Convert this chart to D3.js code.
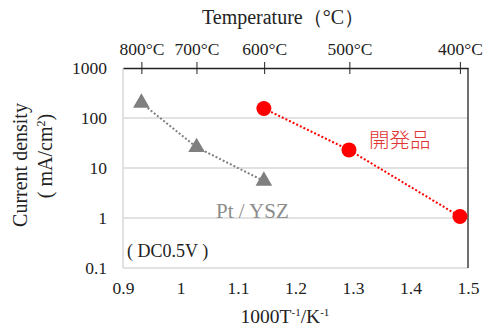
<!DOCTYPE html>
<html><head><meta charset="utf-8">
<script src="https://cdn.jsdelivr.net/npm/d3@7"></script>
<style>body{margin:0;background:#fff}svg{display:block}</style>
</head><body>
<svg id="c" width="500" height="330"></svg>
<script>
const ptX = [0.932, 1.028, 1.145];
const ptY = [200, 26, 5.5];
const devX = [1.145, 1.293, 1.486];
const devY = [155, 23, 1.07];
const xTicks = [0.9, 1.0, 1.1, 1.2, 1.3, 1.4, 1.5];
const yTicks = [0.1, 1, 10, 100, 1000];
const tempTicks = [800, 700, 600, 500, 400];

const SERIF = '"Liberation Serif","Times New Roman",Times,serif';
const svg = d3.select("#c");
const L = 123, R = 468, T = 68, B = 268;
const x = d3.scaleLinear().domain([0.9, 1.5]).range([L, R]);
const y = d3.scaleLog().domain([0.1, 1000]).range([B, T]);

svg.append("g").selectAll("line").data(yTicks.slice(1, 4)).join("line")
  .attr("x1", L).attr("x2", R).attr("y1", d => y(d)).attr("y2", d => y(d))
  .attr("stroke", "#d9d9d9").attr("stroke-width", 1.5);
svg.append("line").attr("x1", L).attr("x2", L).attr("y1", T).attr("y2", B).attr("stroke", "#d9d9d9").attr("stroke-width", 1.5);
svg.append("line").attr("x1", L).attr("x2", R).attr("y1", B).attr("y2", B).attr("stroke", "#d9d9d9").attr("stroke-width", 1.5);
svg.append("line").attr("x1", R).attr("x2", R).attr("y1", T).attr("y2", B).attr("stroke", "#222").attr("stroke-width", 1.3);

const xa = svg.append("g").attr("transform", `translate(0,${B})`)
  .call(d3.axisBottom(x).tickValues(xTicks).tickSize(0).tickPadding(14).tickFormat(d => String(+d.toFixed(1))));
xa.select(".domain").remove();
xa.selectAll("text").attr("fill", "#222").style("font-size", "17.5px").style("font-family", SERIF);

const ya = svg.append("g").attr("transform", `translate(${L},0)`)
  .call(d3.axisLeft(y).tickValues(yTicks).tickSize(0).tickPadding(16).tickFormat(d => String(d)));
ya.select(".domain").remove();
ya.selectAll("text").attr("fill", "#222").style("font-size", "17.5px").style("font-family", SERIF);

const ta = svg.append("g").attr("transform", `translate(0,${T})`)
  .call(d3.axisTop(x).tickValues(tempTicks.map(t => 1000 / (t + 273))).tickSizeInner(6).tickSizeOuter(0).tickPadding(7).tickFormat((d, i) => tempTicks[i] + "°C"));
ta.select(".domain").attr("stroke", "#222").attr("stroke-width", 1.3);
ta.selectAll(".tick line").attr("stroke", "#222").attr("y1", 6).attr("y2", -6);
ta.selectAll("text").attr("fill", "#222").style("font-size", "17.5px").style("font-family", SERIF);

const line = d3.line().x(d => x(d[0])).y(d => y(d[1]));
svg.append("path").datum(ptX.map((v, i) => [v, ptY[i]])).attr("d", line)
  .attr("fill", "none").attr("stroke", "#7f7f7f").attr("stroke-width", 2).attr("stroke-dasharray", "2,2");
svg.append("path").datum(devX.map((v, i) => [v, devY[i]])).attr("d", line)
  .attr("fill", "none").attr("stroke", "#ff0000").attr("stroke-width", 2).attr("stroke-dasharray", "2,2");

const tri = d3.symbol().type(d3.symbolTriangle).size(120);
svg.append("g").selectAll("path").data(ptX.map((v, i) => [v, ptY[i]])).join("path")
  .attr("d", tri).attr("transform", d => `translate(${x(d[0])},${y(d[1])})`).attr("fill", "#7f7f7f");
svg.append("g").selectAll("circle").data(devX.map((v, i) => [v, devY[i]])).join("circle")
  .attr("cx", d => x(d[0])).attr("cy", d => y(d[1])).attr("r", 7.5).attr("fill", "#ff0000");

function txt(xp, yp, s, size, fill, fam) {
  return svg.append("text").attr("x", xp).attr("y", yp).attr("fill", fill)
    .style("font-size", size + "px").style("font-family", fam || SERIF).text(s);
}
txt(216, 218, "Pt / YSZ", 21, "#8c8c8c");
txt(369, 148, "開発品", 20.5, "#e03535", '"Noto Sans CJK JP",sans-serif').style("font-weight", 300);
txt(127, 257, "( DC0.5V )", 18, "#222");

txt(283, 24, "Temperature（°C）", 20, "#222").attr("text-anchor", "middle");
const xt = txt(285, 323, "", 19.5, "#222").attr("text-anchor", "middle");
xt.append("tspan").text("1000T");
xt.append("tspan").attr("dy", -7).style("font-size", "11px").text("-1");
xt.append("tspan").attr("dy", 7).text("/K");
xt.append("tspan").attr("dy", -7).style("font-size", "11px").text("-1");

const yt = svg.append("g").attr("transform", "translate(27,165) rotate(-90)");
yt.append("text").attr("text-anchor", "middle").attr("fill", "#222").style("font-size", "20px").style("font-family", SERIF).text("Current density");
const yt2 = yt.append("text").attr("x", 9).attr("y", 25).attr("text-anchor", "middle").attr("fill", "#222").style("font-size", "20px").style("font-family", SERIF);
yt2.append("tspan").text("( mA/cm");
yt2.append("tspan").attr("dy", -7).style("font-size", "12px").text("2");
yt2.append("tspan").attr("dy", 7).text(")");
</script>
</body></html>
